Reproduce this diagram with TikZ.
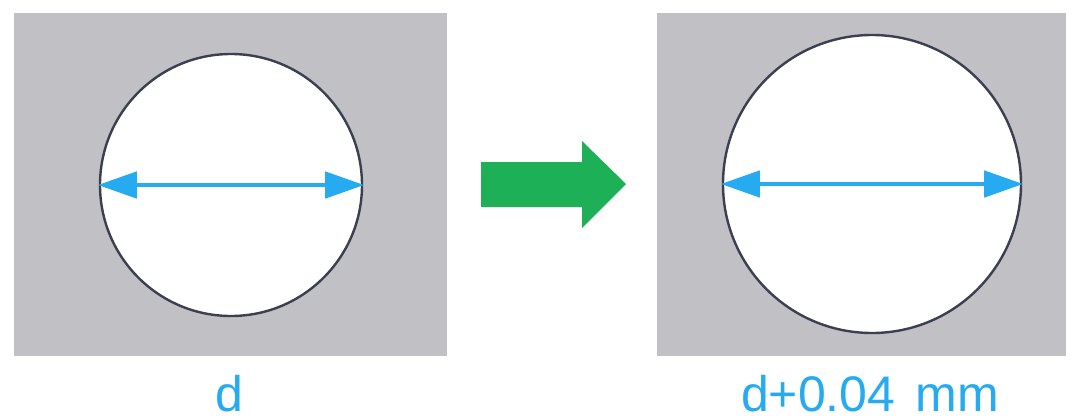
\documentclass[tikz,border=0pt]{standalone}
\usepackage{fontspec}
\setmainfont{Liberation Sans}
\usetikzlibrary{arrows.meta}
\definecolor{panelgray}{RGB}{193,192,197}
\definecolor{dimblue}{RGB}{38,170,240}
\definecolor{arrowgreen}{RGB}{30,176,86}
\definecolor{rimdark}{RGB}{58,64,80}
\tikzset{
  panel/.style={fill=panelgray},
  hole/.style={circle, draw=rimdark, line width=2.4pt, fill=white, inner sep=0pt},
  dimline/.style={draw=dimblue, line width=4.6pt, {Triangle[length=39pt,width=26pt]}-{Triangle[length=39pt,width=26pt]}},
  lab/.style={text=dimblue, font=\fontsize{50pt}{60pt}\selectfont, anchor=base, inner sep=0pt}
}
\begin{document}
\begin{tikzpicture}[x=1pt,y=-1pt]
\useasboundingbox (0,0) rectangle (1074,418);
\fill[panel] (14,13) rectangle (447,356);
\fill[panel] (657,13) rectangle (1066,356);
\node[hole, minimum size=262pt] (c1) at (231,185) {};
\node[hole, minimum size=298pt] (c2) at (872,184) {};
\draw[dimline] ([xshift=-1pt]c1.west) -- ([xshift=1pt]c1.east);
\draw[dimline] ([xshift=-1pt]c2.west) -- ([xshift=1pt]c2.east);
\fill[arrowgreen] (481,162) -- (582,162) -- (582,141) -- (626,184) -- (582,228) -- (582,207) -- (481,207) -- cycle;
\node[lab] (l1) at (229,411) {d};
\node[lab] (l2) at (870,411) {d+0.04\hspace{0.4em}mm};
\end{tikzpicture}
\end{document}
